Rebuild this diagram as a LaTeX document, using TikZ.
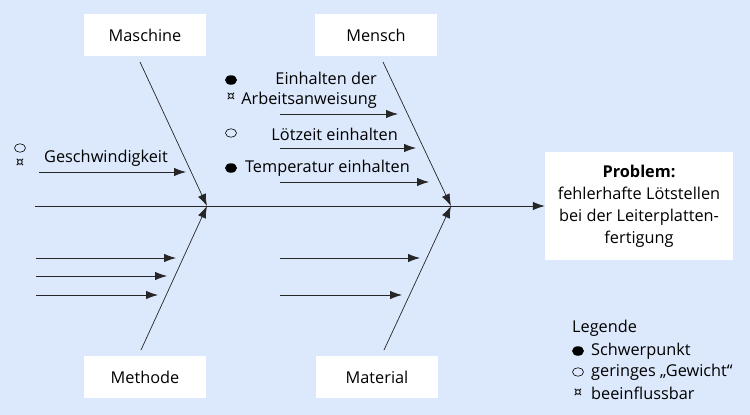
\documentclass[tikz,border=0pt]{standalone}
\usepackage{fontspec}
\setmainfont{Open Sans}
\newfontfamily\symfont{DejaVu Sans}
\usetikzlibrary{arrows.meta,shapes.geometric,calc}
\definecolor{bgblue}{RGB}{220,232,252}
\tikzset{
  lbl/.style={font=\fontsize{16.3}{22}\selectfont, inner sep=0pt},
  catbox/.style={fill=white, minimum width=122pt, minimum height=42pt, inner sep=0pt, font=\fontsize{16.3}{20}\selectfont},
  arr/.style={draw=black!85, line width=0.8pt, -{Latex[length=12pt,width=8.5pt]}},
  bone/.style={draw=black!85, line width=0.7pt, -{Latex[length=12pt,width=8.5pt]}},
  dotfull/.style={ellipse, fill=black, minimum width=12pt, minimum height=9.5pt, inner sep=0pt},
  dotopen/.style={ellipse, draw=black, line width=0.6pt, minimum width=11pt, minimum height=8.5pt, inner sep=0pt},
  symb/.style={font=\symfont\fontsize{13}{13}\selectfont, inner sep=0pt}
}
\begin{document}
\begin{tikzpicture}[x=1pt,y=-1pt]
\fill[bgblue] (0,0) rectangle (750,415);
\useasboundingbox (0,0) rectangle (750,415);

% category boxes
\node[catbox] (masch) at (145,35) {Maschine};
\node[catbox] (mensch) at (376,35) {Mensch};
\node[catbox] (meth) at (145,377) {Methode};
\node[catbox] (mat) at (377,377) {Material};

% problem box
\node[fill=white, minimum width=188pt, minimum height=108pt, inner sep=0pt,
      align=center, font=\fontsize{16.3}{22}\selectfont] (prob) at (639,206)
  {\textbf{Problem:}\\fehlerhafte Lötstellen\\bei der Leiterplatten-\\fertigung};

% junctions and spine
\coordinate (j1) at (207,206);
\coordinate (j2) at (451,206);
\coordinate (spineL) at (35,206);
\draw[line width=0.8pt, draw=black!85] (spineL) -- (j1);
\draw[arr] (j1) -- (prob.west);

% bones
\coordinate (b1) at (140,62);
\coordinate (b2) at (383,62);
\coordinate (b3) at (141,350);
\coordinate (b4) at (384,350);
\draw[bone] (b1) -- (j1);
\draw[bone] (b3) -- (j1);
\draw[bone] (b2) -- (j2);
\draw[bone] (b4) -- (j2);

% Maschine side
\node[lbl, anchor=west] (gesch) at (44,158) {Geschwindigkeit};
\coordinate (g0) at (39,172); \coordinate (g1) at (186,172);
\draw[arr] (g0) -- (g1);
\node[dotopen] (s1) at (20,148) {};
\node[symb] (s2) at (20,163) {¤};

% Mensch side
\node[lbl, anchor=east] (ein1) at (377,78) {Einhalten der};
\node[lbl, anchor=east] (ein2) at (377,100) {Arbeitsanweisung};
\coordinate (e0) at (280,114); \coordinate (e1) at (398,114);
\draw[arr] (e0) -- (e1);
\node[dotfull] (s3) at (231,80) {};
\node[symb] (s4) at (231,97) {¤};

\node[lbl, anchor=east] (loet) at (398,134) {Lötzeit einhalten};
\coordinate (l0) at (280,148); \coordinate (l1) at (416,148);
\draw[arr] (l0) -- (l1);
\node[dotopen] (s5) at (231,133) {};

\node[lbl, anchor=east] (temp) at (410,168) {Temperatur einhalten};
\coordinate (t0) at (280,182); \coordinate (t1) at (429,182);
\draw[arr] (t0) -- (t1);
\node[dotfull] (s6) at (231,168) {};

% Methode side arrows
\coordinate (m1a) at (36,258); \coordinate (m1b) at (176,258);
\coordinate (m2a) at (36,276); \coordinate (m2b) at (167,276);
\coordinate (m3a) at (36,295); \coordinate (m3b) at (158,295);
\draw[arr] (m1a) -- (m1b);
\draw[arr] (m2a) -- (m2b);
\draw[arr] (m3a) -- (m3b);

% Material side arrows
\coordinate (r1a) at (280,258); \coordinate (r1b) at (420,258);
\coordinate (r2a) at (280,295); \coordinate (r2b) at (402,295);
\draw[arr] (r1a) -- (r1b);
\draw[arr] (r2a) -- (r2b);

% legend
\node[lbl, anchor=west] (leg) at (572,328) {Legende};
\node[dotfull] (ls1) at (578,351) {};
\node[lbl, anchor=west] (lt1) at (591,351) {Schwerpunkt};
\node[dotopen] (ls2) at (578,372) {};
\node[lbl, anchor=west] (lt2) at (591,372) {geringes „Gewicht“};
\node[symb] (ls3) at (578,393) {¤};
\node[lbl, anchor=west] (lt3) at (591,393) {beeinflussbar};
\end{tikzpicture}
\end{document}
